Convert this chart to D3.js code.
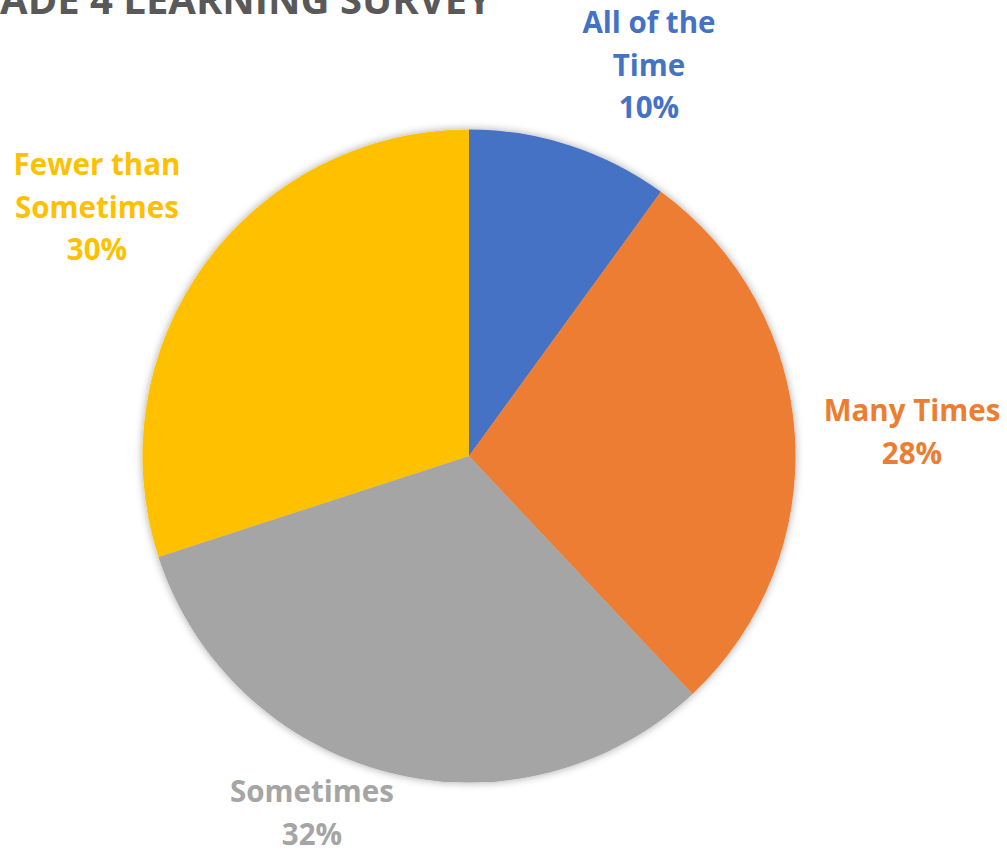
<!DOCTYPE html>
<html>
<head>
<meta charset="utf-8">
<script src="https://cdn.jsdelivr.net/npm/d3@7"></script>
<style>
  html, body { margin: 0; padding: 0; background: #ffffff; }
  svg { display: block; }
  text { font-family: "Open Sans", "Noto Sans", sans-serif; font-weight: 700; }
</style>
</head>
<body>
<svg id="chart" width="1007" height="854"></svg>
<script>
// Survey responses (percent of pupils)
const categories = ["All of the Time", "Many Times", "Sometimes", "Fewer than Sometimes"];
const values = [10, 28, 32, 30];
const colors = ["#4472C4", "#ED7D31", "#A5A5A5", "#FFC000"];
// Label text lines, drawn above the percentage line
const labelLines = [["All of the", "Time"], ["Many Times"], ["Sometimes"], ["Fewer than", "Sometimes"]];
// Label anchor positions (centre x, first baseline y)
const labelX = [649, 912, 312, 97];
const labelY = [33, 421, 802, 175];
const title = "GRADE 4 LEARNING SURVEY";

const svg = d3.select("#chart");
const cx = 469, cy = 456, radius = 326.5;

// soft glow shadow around the pie
const defs = svg.append("defs");
const f = defs.append("filter").attr("id", "pieShadow")
  .attr("x", "-10%").attr("y", "-10%").attr("width", "120%").attr("height", "120%");
f.append("feGaussianBlur").attr("in", "SourceAlpha").attr("stdDeviation", 4).attr("result", "blur");
f.append("feComponentTransfer").attr("in", "blur").attr("result", "soft")
  .append("feFuncA").attr("type", "linear").attr("slope", 0.35);
const merge = f.append("feMerge");
merge.append("feMergeNode").attr("in", "soft");
merge.append("feMergeNode").attr("in", "SourceGraphic");

const pie = d3.pie().sort(null).value(d => d)(values);
const arc = d3.arc().innerRadius(0).outerRadius(radius);

const g = svg.append("g")
  .attr("transform", `translate(${cx},${cy})`)
  .attr("filter", "url(#pieShadow)");

g.selectAll("path")
  .data(pie)
  .join("path")
  .attr("d", arc)
  .attr("fill", (d, i) => colors[i]);

// data labels: category name + percentage
const lineH = 42.5;
const total = d3.sum(values);
const fmt = d3.format(".0%");
categories.forEach((c, i) => {
  const t = svg.append("text")
    .attr("text-anchor", "middle")
    .attr("font-size", 29.5)
    .attr("fill", colors[i]);
  const lines = labelLines[i].concat([fmt(values[i] / total)]);
  lines.forEach((ln, k) => {
    t.append("tspan")
      .attr("x", labelX[i])
      .attr("y", labelY[i] + k * lineH)
      .text(ln);
  });
});

// chart title, running off the top-left corner of the frame
svg.append("text")
  .attr("x", 492)
  .attr("y", 14)
  .attr("text-anchor", "end")
  .attr("font-size", 40)
  .attr("fill", "#595959")
  .text(title);
</script>
</body>
</html>
